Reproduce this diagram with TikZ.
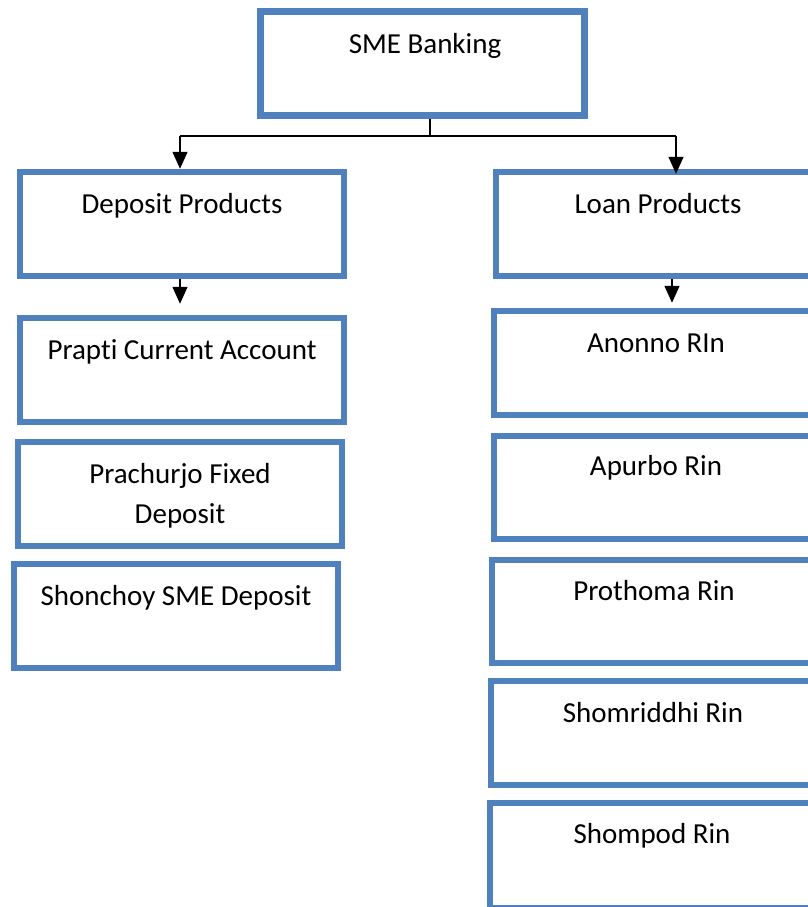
\documentclass[tikz,border=0pt]{standalone}
\usepackage{fontspec}
\setmainfont{Carlito}[Ligatures=NoCommon]
\usetikzlibrary{arrows.meta}
\definecolor{boxblue}{RGB}{79,129,189}
\begin{document}
\begin{tikzpicture}[x=1pt,y=-1pt,
  box/.style={draw=boxblue, line width=6.5pt, fill=white, inner sep=0pt},
  lbl/.style={anchor=base, inner sep=0pt, font=\fontsize{29}{40}\selectfont, align=center},
  conn/.style={line width=1.5pt, black},
  arr/.style={conn, -{Triangle[length=17pt,width=15pt]}}]
\useasboundingbox (0,0) rectangle (807,907);
% boxes
\node[box, minimum width=324pt, minimum height=104pt] (sme)    at (422.5,63.5) {};
\node[box, minimum width=324pt, minimum height=104pt] (dep)    at (182,224) {};
\node[box, minimum width=324pt, minimum height=104pt] (loan)   at (658,224) {};
\node[box, minimum width=324pt, minimum height=104pt] (prapti) at (182,370) {};
\node[box, minimum width=324pt, minimum height=104pt] (prach)  at (180,494) {};
\node[box, minimum width=324pt, minimum height=104pt] (shon)   at (176,616) {};
\node[box, minimum width=324pt, minimum height=104pt] (anon)   at (656,363) {};
\node[box, minimum width=324pt, minimum height=103pt] (apur)   at (656,487.5) {};
\node[box, minimum width=324pt, minimum height=103pt] (proth)  at (654,611.5) {};
\node[box, minimum width=324pt, minimum height=104pt] (shom)   at (653,733) {};
\node[box, minimum width=324pt, minimum height=105pt] (shomp)  at (652,855.5) {};
% labels
\node[lbl] (tsme)    at (425,54)  {SME Banking};
\node[lbl] (tdep)    at (182,213) {Deposit Products};
\node[lbl] (tloan)   at (658,213) {Loan Products};
\node[lbl] (tprapti) at (182,359) {Prapti Current Account};
\node[lbl] (tprach)  at (180,523) {Prachurjo Fixed\\Deposit};
\node[lbl] (tshon)   at (176,605) {Shonchoy SME Deposit};
\node[lbl] (tanon)   at (656,352) {Anonno RIn};
\node[lbl] (tapur)   at (656,475) {Apurbo Rin};
\node[lbl] (tproth)  at (654,600) {Prothoma Rin};
\node[lbl] (tshom)   at (653,722) {Shomriddhi Rin};
\node[lbl] (tshomp)  at (652,843) {Shompod Rin};
% connectors
\coordinate (j)  at (430,136);
\coordinate (jl) at (180,136);
\coordinate (jr) at (676,136);
\coordinate (dl) at (180,0);
\coordinate (lr) at (672,0);
\draw[conn] (sme.south -| j) -- (j);
\draw[conn] (jl) -- (jr);
\draw[arr] (jl) -- (jl |- dep.north);
\draw[arr, shorten >=-5pt] (jr) -- (jr |- loan.north);
\draw[arr, shorten >=11pt] (dep.south -| dl) -- (prapti.north -| dl);
\draw[arr, shorten >=5pt] (loan.south -| lr) -- (anon.north -| lr);
\end{tikzpicture}
\end{document}
